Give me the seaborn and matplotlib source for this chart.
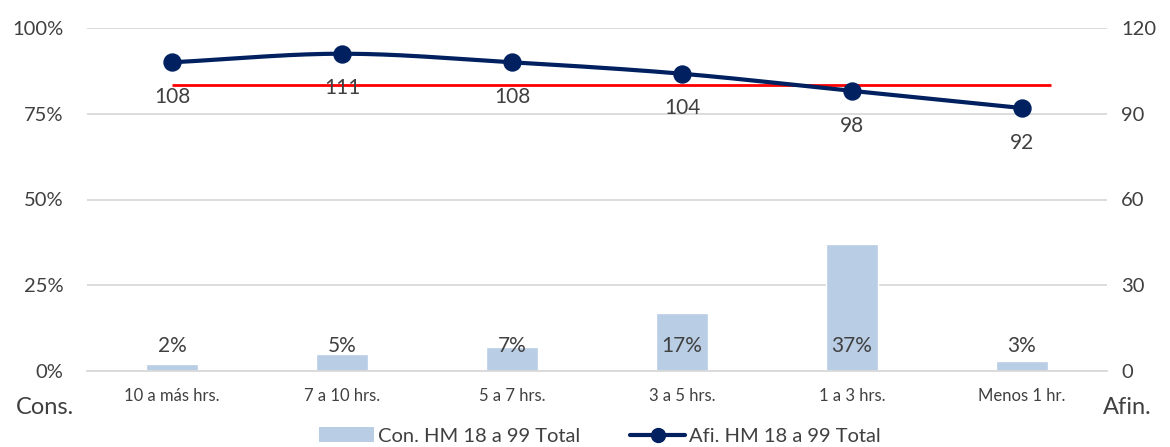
import numpy as np
import pandas as pd
import matplotlib
matplotlib.use("Agg")
import matplotlib.pyplot as plt
import seaborn as sns
from matplotlib.patches import Patch
from matplotlib.lines import Line2D

# Horas de consumo por categoría
categorias = ["10 a más hrs.", "7 a 10 hrs.", "5 a 7 hrs.", "3 a 5 hrs.", "1 a 3 hrs.", "Menos 1 hr."]
consumo_pct = [2, 5, 7, 17, 37, 3]          # Con. HM 18 a 99 Total (%)
afinidad = [108, 111, 108, 104, 98, 92]     # Afi. HM 18 a 99 Total (índice)
referencia_afinidad = 100

serie_barras = "Con. HM 18 a 99 Total"
serie_linea = "Afi. HM 18 a 99 Total"

df = pd.DataFrame({"categoria": categorias, "consumo": consumo_pct, "afinidad": afinidad})

sns.set_theme(style="white")
plt.rcParams["font.family"] = ["Lato", "DejaVu Sans"]

texto = "#404040"
color_barra = "#b9cde5"
color_linea = "#002060"
color_grid = "#d9d9d9"

fig = plt.figure(figsize=(11.7, 4.47), dpi=100)
ax = fig.add_axes([87 / 1170, 1 - 371 / 447, (1107 - 87) / 1170, (371 - 28) / 447])

sns.barplot(data=df, x="categoria", y="consumo", color=color_barra, width=0.31,
            saturation=1, ax=ax, label=serie_barras, zorder=2)
ax.set_ylim(0, 100)
ax.set_xlim(-0.5, len(categorias) - 0.5)
ax.set_yticks([0, 25, 50, 75, 100])
ax.set_yticklabels([f"{v}%" for v in [0, 25, 50, 75, 100]])
ax.yaxis.grid(True, color=color_grid, linewidth=1.3, zorder=0)
ax.set_axisbelow(True)
for s in ["top", "left", "right"]:
    ax.spines[s].set_visible(False)
ax.spines["bottom"].set_color(color_grid)
ax.spines["bottom"].set_linewidth(1.3)
ax.set_xlabel("")
ax.set_ylabel("")
ax.tick_params(axis="y", labelsize=14.5, colors=texto, length=0, pad=17)
ax.tick_params(axis="x", labelsize=12, colors=texto, length=0, pad=12)

# etiquetas de las barras, a altura fija sobre la base
for i, v in enumerate(consumo_pct):
    ax.text(i, 7.2, f"{v}%", ha="center", va="center", fontsize=15, color=texto, zorder=4)

# eje secundario: afinidad
ax2 = ax.twinx()
ax2.set_ylim(0, 120)
ax2.set_yticks([0, 30, 60, 90, 120])
for s in ["top", "left", "right", "bottom"]:
    ax2.spines[s].set_visible(False)
ax2.tick_params(axis="y", labelsize=14.5, colors=texto, length=0, pad=10)
ax2.grid(False)

# línea suavizada (Catmull-Rom) a través de los puntos de afinidad
xs = np.arange(len(afinidad), dtype=float)
ys = np.array(afinidad, dtype=float)
px = np.concatenate([[2 * xs[0] - xs[1]], xs, [2 * xs[-1] - xs[-2]]])
py = np.concatenate([[2 * ys[0] - ys[1]], ys, [2 * ys[-1] - ys[-2]]])
cx, cy = [], []
for k in range(1, len(px) - 2):
    t = np.linspace(0, 1, 30)
    p0, p1, p2, p3 = py[k - 1], py[k], py[k + 1], py[k + 2]
    seg_y = 0.5 * ((2 * p1) + (-p0 + p2) * t + (2 * p0 - 5 * p1 + 4 * p2 - p3) * t**2
                   + (-p0 + 3 * p1 - 3 * p2 + p3) * t**3)
    cx.extend(px[k] + t * (px[k + 1] - px[k]))
    cy.extend(seg_y)
curva = pd.DataFrame({"x": cx, "y": cy})
sns.lineplot(data=curva, x="x", y="y", color=color_linea, linewidth=3, ax=ax2,
             sort=False, zorder=5, legend=False)
sns.scatterplot(x=xs, y=ys, color=color_linea, s=150, edgecolor=color_linea, ax=ax2,
                zorder=6, legend=False)

# línea de referencia en 100
ax2.hlines(referencia_afinidad, xs[0], xs[-1] + 0.17, color="#ff0000", linewidth=2, zorder=4)

for i, v in enumerate(afinidad):
    ax2.annotate(f"{v}", (i, v), xytext=(0, -25), textcoords="offset points",
                 ha="center", va="center", fontsize=15, color=texto, zorder=7)
ax2.set_xlabel("")
ax2.set_ylabel("")
ax2.set_xlim(-0.5, len(categorias) - 0.5)

# títulos de los ejes
fig.text(45 / 1170, 1 - 408 / 447, "Cons.", ha="center", va="center", fontsize=17, color=texto)
fig.text(1127 / 1170, 1 - 408 / 447, "Afin.", ha="center", va="center", fontsize=17, color=texto)

# leyenda
handles = [Patch(facecolor=color_barra, edgecolor="none"),
           Line2D([0], [0], color=color_linea, linewidth=3, marker="o", markersize=10)]
leg = fig.legend(handles, [serie_barras, serie_linea], loc="center", ncol=2,
                 bbox_to_anchor=(600 / 1170, 1 - 436 / 447), frameon=False, fontsize=14.5,
                 handlelength=2.7, columnspacing=2.5, handletextpad=0.2)
for t in leg.get_texts():
    t.set_color(texto)
if ax.get_legend() is not None:
    ax.get_legend().remove()

fig.savefig("out.png", dpi=100)
